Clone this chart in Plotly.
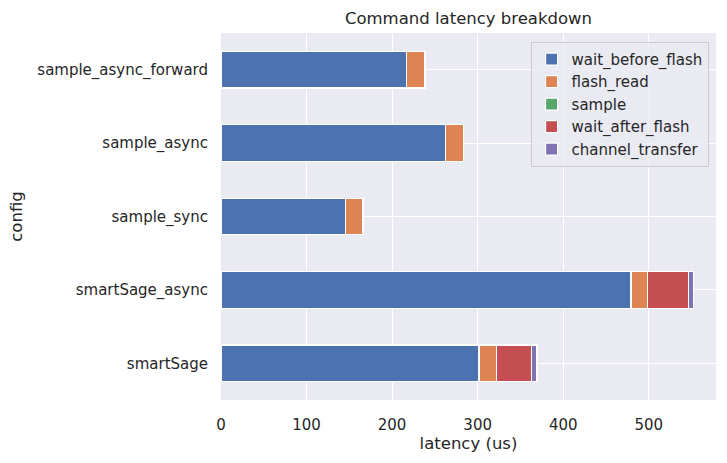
import plotly.graph_objects as go

configs = ["smartSage", "smartSage_async", "sample_sync", "sample_async", "sample_async_forward"]
wait_before_flash = [301.6, 479.3, 145.8, 262.7, 217.1]
flash_read = [20.7, 19.0, 20.2, 20.6, 21.4]
sample = [0.0, 0.0, 0.0, 0.0, 0.0]
wait_after_flash = [40.9, 48.3, 0.0, 0.0, 0.0]
channel_transfer = [6.2, 5.8, 0.0, 0.0, 0.0]

series = [
    ("wait_before_flash", wait_before_flash, "#4C72B0"),
    ("flash_read", flash_read, "#DD8452"),
    ("sample", sample, "#55A868"),
    ("wait_after_flash", wait_after_flash, "#C44E52"),
    ("channel_transfer", channel_transfer, "#8172B3"),
]

x_ticks = [0, 100, 200, 300, 400, 500]

fig = go.Figure()
for name, vals, color in series:
    fig.add_trace(go.Bar(
        y=configs, x=vals, name=name, orientation="h", width=0.5, legendgroup=name,
        marker=dict(color=color, line=dict(color="white", width=1.2)),
    ))

txt = "#262626"
fig.update_layout(
    barmode="stack",
    width=727, height=463,
    margin=dict(l=221, r=11, t=33, b=63, autoexpand=False),
    paper_bgcolor="white",
    plot_bgcolor="#EAEAF2",
    font=dict(family="DejaVu Sans", size=15, color=txt),
    title=dict(text="Command latency breakdown", x=0.5, xref="paper", xanchor="center",
               y=1 - 18 / 463, yref="container", yanchor="middle", automargin=False,
               font=dict(size=16.5, color=txt)),
    xaxis=dict(range=[0, 578.6], tickvals=x_ticks, showgrid=True, gridcolor="white",
               gridwidth=1.3, zeroline=False, showline=False, ticks="", automargin=False,
               ticklabelstandoff=14,
               title=dict(text="latency (us)", font=dict(size=16.5), standoff=3),
               tickfont=dict(size=15)),
    yaxis=dict(type="category", categoryorder="array", categoryarray=configs,
               range=[-0.5, 4.5], showgrid=True, gridcolor="white", gridwidth=1.3,
               zeroline=False, showline=False, ticks="", ticklabelstandoff=12, automargin=False,
               title=dict(text="config", font=dict(size=16.5), standoff=10),
               tickfont=dict(size=15)),
    legend=dict(x=0.985, xanchor="right", y=0.976, yanchor="top",
                bgcolor="rgba(234,234,242,0.8)", bordercolor="#cccccc", borderwidth=1,
                traceorder="normal", tracegroupgap=2.5, font=dict(size=15, color=txt)),
    bargap=0.5,
)

fig.write_html("out.html", config={"displayModeBar": False},
               post_script="document.body.style.margin='0';")
